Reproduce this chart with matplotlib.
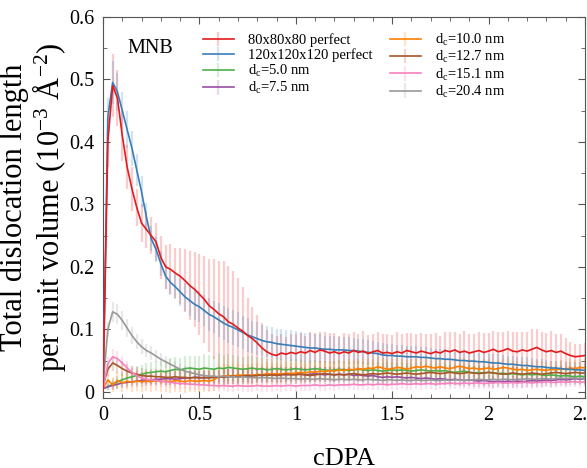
import numpy as np
import matplotlib
matplotlib.use("Agg")
import matplotlib.pyplot as plt

plt.rcParams["font.family"] = ["Liberation Serif", "DejaVu Serif"]
plt.rcParams["mathtext.fontset"] = "custom"
plt.rcParams["mathtext.rm"] = "Liberation Serif"
plt.rcParams["mathtext.it"] = "Liberation Serif:italic"

# cDPA grid (step 0.025)
cdpa = np.linspace(0, 2.5, 101)

labels = ["80x80x80 perfect", "120x120x120 perfect",
          r"d$_\mathrm{c}$=5.0 nm", r"d$_\mathrm{c}$=7.5 nm",
          r"d$_\mathrm{c}$=10.0 nm", r"d$_\mathrm{c}$=12.7 nm",
          r"d$_\mathrm{c}$=15.1 nm", r"d$_\mathrm{c}$=20.4 nm"]
colors = ["#e41a1c", "#377eb8", "#4daf4a", "#984ea3",
          "#ff7f00", "#a65628", "#f781bf", "#999999"]

perf80 = [0.0, 0.40, 0.49, 0.47, 0.41, 0.36, 0.325, 0.295, 0.27, 0.26,
          0.25, 0.24, 0.215, 0.20, 0.196, 0.19, 0.185, 0.178, 0.17, 0.164,
          0.156, 0.148, 0.138, 0.132, 0.125, 0.12, 0.112, 0.108, 0.102, 0.097,
          0.09, 0.085, 0.078, 0.07, 0.064, 0.06, 0.058, 0.062, 0.06, 0.063,
          0.061, 0.064, 0.062, 0.066, 0.063, 0.067, 0.065, 0.062, 0.064, 0.061,
          0.064, 0.062, 0.066, 0.063, 0.065, 0.061, 0.064, 0.066, 0.062, 0.063,
          0.061, 0.064, 0.062, 0.066, 0.064, 0.062, 0.065, 0.063, 0.061, 0.064,
          0.062, 0.066, 0.064, 0.067, 0.063, 0.065, 0.062, 0.064, 0.066, 0.063,
          0.065, 0.068, 0.064, 0.066, 0.069, 0.065, 0.064, 0.067, 0.065, 0.068,
          0.071, 0.067, 0.064, 0.066, 0.063, 0.065, 0.061, 0.058, 0.056, 0.057, 0.058]
perf120 = [0.0, 0.44, 0.495, 0.48, 0.45, 0.42, 0.39, 0.355, 0.32, 0.28,
           0.245, 0.228, 0.205, 0.185, 0.175, 0.168, 0.16, 0.152, 0.146, 0.14,
           0.136, 0.13, 0.124, 0.12, 0.115, 0.11, 0.106, 0.103, 0.099, 0.095,
           0.091, 0.088, 0.085, 0.082, 0.08, 0.079, 0.077, 0.076, 0.075, 0.074,
           0.073, 0.072, 0.071, 0.07, 0.07, 0.069, 0.068, 0.068, 0.067, 0.067,
           0.067, 0.066, 0.066, 0.065, 0.064, 0.063, 0.062, 0.061, 0.059, 0.058,
           0.058, 0.057, 0.057, 0.056, 0.056, 0.056, 0.055, 0.055, 0.054, 0.053,
           0.053, 0.052, 0.052, 0.051, 0.05, 0.05, 0.049, 0.049, 0.048, 0.048,
           0.047, 0.046, 0.046, 0.045, 0.044, 0.044, 0.043, 0.042, 0.042, 0.041,
           0.04, 0.04, 0.039, 0.038, 0.038, 0.037, 0.036, 0.036, 0.035, 0.035, 0.034]
dc50 = [0.005, 0.008, 0.012, 0.016, 0.019, 0.022, 0.024, 0.026, 0.028, 0.03,
        0.031, 0.032, 0.033, 0.032, 0.034, 0.036, 0.035, 0.037, 0.038, 0.037,
        0.036, 0.038, 0.037, 0.036, 0.038, 0.037, 0.039, 0.038, 0.037, 0.036,
        0.037, 0.038, 0.036, 0.037, 0.035, 0.036, 0.037, 0.036, 0.035, 0.036,
        0.037, 0.036, 0.035, 0.036, 0.037, 0.036, 0.035, 0.034, 0.035, 0.036,
        0.035, 0.034, 0.035, 0.036, 0.035, 0.034, 0.035, 0.034, 0.033, 0.034,
        0.035, 0.034, 0.035, 0.034, 0.033, 0.034, 0.035, 0.034, 0.033, 0.034,
        0.033, 0.034, 0.032, 0.031, 0.032, 0.033, 0.031, 0.03, 0.031, 0.03,
        0.031, 0.03, 0.029, 0.03, 0.028, 0.029, 0.028, 0.027, 0.028, 0.027,
        0.028, 0.027, 0.026, 0.027, 0.026, 0.025, 0.026, 0.025, 0.024, 0.025, 0.024]
dc75 = [0.005, 0.008, 0.01, 0.012, 0.014, 0.015, 0.016, 0.017, 0.018, 0.019,
        0.019, 0.02, 0.02, 0.021, 0.021, 0.02, 0.021, 0.022, 0.022, 0.023,
        0.023, 0.022, 0.023, 0.024, 0.023, 0.024, 0.025, 0.024, 0.025, 0.026,
        0.025, 0.026, 0.027, 0.026, 0.027, 0.028, 0.027, 0.028, 0.027, 0.028,
        0.029, 0.028, 0.027, 0.028, 0.029, 0.028, 0.027, 0.028, 0.027, 0.028,
        0.027, 0.028, 0.026, 0.027, 0.026, 0.025, 0.026, 0.024, 0.023, 0.024,
        0.023, 0.024, 0.023, 0.022, 0.023, 0.022, 0.021, 0.022, 0.021, 0.02,
        0.021, 0.02, 0.019, 0.02, 0.019, 0.018, 0.019, 0.018, 0.017, 0.018,
        0.017, 0.016, 0.017, 0.016, 0.017, 0.016, 0.017, 0.016, 0.017, 0.018,
        0.017, 0.018, 0.019, 0.018, 0.019, 0.02, 0.019, 0.02, 0.021, 0.02, 0.021]
dc100 = [0.005, 0.019, 0.011, 0.018, 0.014, 0.017, 0.015, 0.017, 0.016, 0.017,
         0.016, 0.018, 0.016, 0.017, 0.016, 0.018, 0.017, 0.016, 0.018, 0.017,
         0.017, 0.018, 0.017, 0.019, 0.024, 0.025, 0.026, 0.025, 0.027, 0.026,
         0.027, 0.026, 0.028, 0.027, 0.029, 0.028, 0.029, 0.028, 0.03, 0.029,
         0.03, 0.031, 0.03, 0.032, 0.031, 0.033, 0.032, 0.034, 0.033, 0.035,
         0.034, 0.036, 0.035, 0.037, 0.036, 0.038, 0.037, 0.04, 0.038, 0.036,
         0.037, 0.039, 0.038, 0.036, 0.038, 0.04, 0.039, 0.041, 0.039, 0.038,
         0.04, 0.038, 0.037, 0.039, 0.041, 0.039, 0.037, 0.038, 0.036, 0.037,
         0.038, 0.036, 0.037, 0.039, 0.038, 0.036, 0.035, 0.036, 0.034, 0.035,
         0.036, 0.035, 0.034, 0.036, 0.035, 0.037, 0.036, 0.038, 0.037, 0.039, 0.038]
dc127 = [0.01, 0.036, 0.046, 0.042, 0.037, 0.033, 0.03, 0.028, 0.026, 0.025,
         0.025, 0.024, 0.024, 0.023, 0.023, 0.024, 0.023, 0.023, 0.022, 0.023,
         0.022, 0.023, 0.022, 0.023, 0.024, 0.023, 0.024, 0.025, 0.024, 0.025,
         0.026, 0.025, 0.026, 0.027, 0.026, 0.027, 0.026, 0.027, 0.028, 0.027,
         0.027, 0.028, 0.027, 0.026, 0.027, 0.028, 0.029, 0.028, 0.027, 0.028,
         0.027, 0.028, 0.029, 0.028, 0.027, 0.028, 0.029, 0.028, 0.029, 0.03,
         0.029, 0.028, 0.029, 0.03, 0.029, 0.028, 0.029, 0.03, 0.031, 0.03,
         0.029, 0.03, 0.031, 0.03, 0.029, 0.03, 0.031, 0.03, 0.029, 0.03,
         0.031, 0.03, 0.029, 0.028, 0.029, 0.03, 0.029, 0.028, 0.029, 0.03,
         0.029, 0.028, 0.029, 0.03, 0.031, 0.03, 0.029, 0.03, 0.031, 0.03, 0.03]
dc151 = [0.005, 0.045, 0.056, 0.053, 0.046, 0.038, 0.031, 0.026, 0.022, 0.02,
         0.019, 0.018, 0.017, 0.016, 0.015, 0.014, 0.013, 0.013, 0.012, 0.012,
         0.011, 0.011, 0.01, 0.01, 0.009, 0.01, 0.009, 0.009, 0.01, 0.009,
         0.009, 0.009, 0.01, 0.009, 0.009, 0.009, 0.01, 0.009, 0.01, 0.01,
         0.009, 0.01, 0.01, 0.01, 0.011, 0.01, 0.01, 0.011, 0.01, 0.011,
         0.011, 0.011, 0.012, 0.011, 0.011, 0.012, 0.011, 0.012, 0.012, 0.011,
         0.012, 0.012, 0.013, 0.012, 0.012, 0.013, 0.012, 0.013, 0.013, 0.012,
         0.013, 0.013, 0.014, 0.013, 0.013, 0.014, 0.013, 0.014, 0.014, 0.013,
         0.014, 0.014, 0.015, 0.014, 0.014, 0.015, 0.014, 0.015, 0.015, 0.014,
         0.015, 0.015, 0.016, 0.015, 0.015, 0.016, 0.015, 0.016, 0.016, 0.015, 0.016]
dc204 = [0.01, 0.10, 0.128, 0.124, 0.114, 0.102, 0.09, 0.08, 0.072, 0.066,
         0.062, 0.057, 0.052, 0.048, 0.044, 0.04, 0.036, 0.033, 0.031, 0.029,
         0.027, 0.026, 0.025, 0.025, 0.024, 0.025, 0.024, 0.024, 0.023, 0.024,
         0.023, 0.023, 0.022, 0.023, 0.022, 0.022, 0.021, 0.022, 0.021, 0.021,
         0.021, 0.02, 0.021, 0.02, 0.02, 0.021, 0.02, 0.02, 0.019, 0.02,
         0.02, 0.019, 0.02, 0.019, 0.019, 0.02, 0.019, 0.019, 0.018, 0.019,
         0.019, 0.018, 0.019, 0.018, 0.018, 0.019, 0.018, 0.018, 0.019, 0.018,
         0.018, 0.019, 0.018, 0.019, 0.019, 0.018, 0.019, 0.019, 0.02, 0.019,
         0.019, 0.02, 0.019, 0.02, 0.02, 0.019, 0.02, 0.02, 0.021, 0.02,
         0.02, 0.021, 0.021, 0.02, 0.021, 0.022, 0.021, 0.022, 0.022, 0.021, 0.022]

# standard deviations (error bars)
perf80_err = [0.0, 0.04, 0.05, 0.045, 0.04, 0.035, 0.035, 0.03, 0.03, 0.03,
              0.03, 0.03, 0.035, 0.035, 0.04, 0.04, 0.045, 0.05, 0.055, 0.06,
              0.065, 0.07, 0.075, 0.08, 0.085, 0.09, 0.09, 0.085, 0.08, 0.07,
              0.06, 0.05, 0.045, 0.04, 0.035, 0.033, 0.032, 0.03, 0.028, 0.03,
              0.032, 0.03, 0.028, 0.03, 0.031, 0.029, 0.03, 0.032, 0.03, 0.028,
              0.03, 0.031, 0.029, 0.03, 0.032, 0.03, 0.028, 0.03, 0.031, 0.029,
              0.03, 0.032, 0.03, 0.028, 0.03, 0.031, 0.029, 0.03, 0.032, 0.03,
              0.028, 0.03, 0.031, 0.029, 0.03, 0.032, 0.03, 0.028, 0.03, 0.031,
              0.029, 0.03, 0.032, 0.03, 0.028, 0.03, 0.031, 0.029, 0.03, 0.032,
              0.03, 0.028, 0.03, 0.031, 0.029, 0.027, 0.025, 0.022, 0.02, 0.02, 0.02]
perf120_err = [0.0, 0.03, 0.035, 0.03, 0.03, 0.03, 0.028, 0.025, 0.025, 0.022,
               0.02, 0.02, 0.02, 0.02, 0.02, 0.02, 0.022, 0.022, 0.024, 0.025,
               0.025, 0.025, 0.026, 0.026, 0.027, 0.027, 0.028, 0.028, 0.028, 0.027,
               0.027, 0.026, 0.026, 0.025, 0.025, 0.025, 0.024, 0.025, 0.024, 0.025,
               0.024, 0.024, 0.023, 0.024, 0.023, 0.023, 0.022, 0.022, 0.022, 0.021,
               0.021, 0.021, 0.02, 0.02, 0.02, 0.02, 0.019, 0.019, 0.019, 0.018,
               0.018, 0.018, 0.018, 0.017, 0.017, 0.017, 0.017, 0.016, 0.016, 0.016,
               0.016, 0.016, 0.015, 0.015, 0.015, 0.015, 0.015, 0.015, 0.014, 0.014,
               0.014, 0.014, 0.014, 0.014, 0.013, 0.013, 0.013, 0.013, 0.013, 0.013,
               0.012, 0.012, 0.012, 0.012, 0.012, 0.012, 0.012, 0.012, 0.012, 0.012, 0.012]
dc50_err = [0.0, 0.005, 0.008, 0.01, 0.012, 0.013, 0.014, 0.015, 0.015, 0.016,
            0.016, 0.017, 0.017, 0.018, 0.018, 0.019, 0.019, 0.02, 0.02, 0.021,
            0.021, 0.022, 0.022, 0.022, 0.022, 0.022, 0.022, 0.021, 0.021, 0.02,
            0.02, 0.019, 0.019, 0.018, 0.018, 0.017, 0.017, 0.016, 0.016, 0.016,
            0.015, 0.015, 0.015, 0.015, 0.014, 0.014, 0.014, 0.014, 0.014, 0.014,
            0.013, 0.013, 0.013, 0.013, 0.013, 0.013, 0.013, 0.013, 0.013, 0.013,
            0.012, 0.012, 0.012, 0.012, 0.012, 0.012, 0.012, 0.012, 0.012, 0.012,
            0.012, 0.012, 0.012, 0.012, 0.012, 0.012, 0.012, 0.012, 0.012, 0.012,
            0.011, 0.011, 0.011, 0.011, 0.011, 0.011, 0.011, 0.011, 0.011, 0.011,
            0.011, 0.011, 0.011, 0.011, 0.011, 0.011, 0.011, 0.011, 0.011, 0.011, 0.011]
dc75_err = [0.0, 0.006, 0.007, 0.008, 0.008, 0.009, 0.009, 0.01, 0.01, 0.01,
            0.01, 0.01, 0.01, 0.011, 0.011, 0.011, 0.011, 0.011, 0.011, 0.011,
            0.011, 0.011, 0.012, 0.012, 0.012, 0.012, 0.012, 0.012, 0.012, 0.012,
            0.012, 0.012, 0.012, 0.012, 0.012, 0.012, 0.012, 0.012, 0.012, 0.012,
            0.012, 0.012, 0.012, 0.012, 0.012, 0.012, 0.012, 0.012, 0.012, 0.012,
            0.011, 0.011, 0.011, 0.011, 0.011, 0.011, 0.011, 0.011, 0.011, 0.011,
            0.011, 0.011, 0.011, 0.011, 0.011, 0.011, 0.011, 0.011, 0.011, 0.011,
            0.01, 0.01, 0.01, 0.01, 0.01, 0.01, 0.01, 0.01, 0.01, 0.01,
            0.01, 0.01, 0.01, 0.01, 0.01, 0.01, 0.01, 0.01, 0.01, 0.01,
            0.01, 0.01, 0.01, 0.01, 0.01, 0.01, 0.01, 0.01, 0.01, 0.01, 0.01]
dc100_err = [0.0, 0.01, 0.012, 0.013, 0.014, 0.015, 0.015, 0.016, 0.016, 0.016,
             0.017, 0.017, 0.017, 0.017, 0.018, 0.018, 0.018, 0.018, 0.018, 0.018,
             0.018, 0.018, 0.018, 0.018, 0.019, 0.019, 0.019, 0.019, 0.019, 0.019,
             0.018, 0.018, 0.018, 0.018, 0.018, 0.018, 0.017, 0.017, 0.017, 0.017,
             0.017, 0.017, 0.016, 0.016, 0.016, 0.016, 0.016, 0.016, 0.016, 0.016,
             0.016, 0.016, 0.016, 0.016, 0.016, 0.016, 0.016, 0.016, 0.016, 0.016,
             0.015, 0.015, 0.015, 0.015, 0.015, 0.015, 0.015, 0.015, 0.015, 0.015,
             0.015, 0.015, 0.015, 0.015, 0.015, 0.015, 0.015, 0.015, 0.015, 0.015,
             0.014, 0.014, 0.014, 0.014, 0.014, 0.014, 0.014, 0.014, 0.014, 0.014,
             0.014, 0.014, 0.014, 0.014, 0.014, 0.014, 0.014, 0.014, 0.014, 0.014, 0.014]
dc127_err = [0.0, 0.01, 0.012, 0.012, 0.012, 0.012, 0.012, 0.012, 0.012, 0.012,
             0.012, 0.012, 0.012, 0.012, 0.012, 0.012, 0.012, 0.012, 0.012, 0.012,
             0.012, 0.012, 0.012, 0.012, 0.012, 0.012, 0.012, 0.012, 0.012, 0.012,
             0.012, 0.012, 0.012, 0.012, 0.012, 0.012, 0.012, 0.012, 0.012, 0.012,
             0.011, 0.011, 0.011, 0.011, 0.011, 0.011, 0.011, 0.011, 0.011, 0.011,
             0.011, 0.011, 0.011, 0.011, 0.011, 0.011, 0.011, 0.011, 0.011, 0.011,
             0.011, 0.011, 0.011, 0.011, 0.011, 0.011, 0.011, 0.011, 0.011, 0.011,
             0.011, 0.011, 0.011, 0.011, 0.011, 0.011, 0.011, 0.011, 0.011, 0.011,
             0.011, 0.011, 0.011, 0.011, 0.011, 0.011, 0.011, 0.011, 0.011, 0.011,
             0.011, 0.011, 0.011, 0.011, 0.011, 0.011, 0.011, 0.011, 0.011, 0.011, 0.011]
dc151_err = [0.0, 0.01, 0.012, 0.012, 0.011, 0.011, 0.01, 0.01, 0.01, 0.009,
             0.009, 0.009, 0.009, 0.009, 0.009, 0.009, 0.009, 0.009, 0.009, 0.009,
             0.009, 0.009, 0.009, 0.009, 0.009, 0.009, 0.009, 0.009, 0.009, 0.009,
             0.009, 0.009, 0.009, 0.009, 0.009, 0.009, 0.009, 0.009, 0.009, 0.009,
             0.009, 0.009, 0.009, 0.009, 0.009, 0.009, 0.009, 0.009, 0.009, 0.009,
             0.009, 0.009, 0.009, 0.009, 0.009, 0.009, 0.009, 0.009, 0.009, 0.009,
             0.009, 0.009, 0.009, 0.009, 0.009, 0.009, 0.009, 0.009, 0.009, 0.009,
             0.009, 0.009, 0.009, 0.009, 0.009, 0.009, 0.009, 0.009, 0.009, 0.009,
             0.009, 0.009, 0.009, 0.009, 0.009, 0.009, 0.009, 0.009, 0.009, 0.009,
             0.009, 0.009, 0.009, 0.009, 0.009, 0.009, 0.009, 0.009, 0.009, 0.009, 0.009]
dc204_err = [0.0, 0.012, 0.016, 0.016, 0.015, 0.014, 0.013, 0.012, 0.012, 0.011,
             0.011, 0.01, 0.01, 0.01, 0.01, 0.009, 0.009, 0.009, 0.009, 0.009,
             0.009, 0.009, 0.009, 0.009, 0.009, 0.009, 0.009, 0.009, 0.009, 0.009,
             0.008, 0.008, 0.008, 0.008, 0.008, 0.008, 0.008, 0.008, 0.008, 0.008,
             0.008, 0.008, 0.008, 0.008, 0.008, 0.008, 0.008, 0.008, 0.008, 0.008,
             0.008, 0.008, 0.008, 0.008, 0.008, 0.008, 0.008, 0.008, 0.008, 0.008,
             0.008, 0.008, 0.008, 0.008, 0.008, 0.008, 0.008, 0.008, 0.008, 0.008,
             0.008, 0.008, 0.008, 0.008, 0.008, 0.008, 0.008, 0.008, 0.008, 0.008,
             0.008, 0.008, 0.008, 0.008, 0.008, 0.008, 0.008, 0.008, 0.008, 0.008,
             0.008, 0.008, 0.008, 0.008, 0.008, 0.008, 0.008, 0.008, 0.008, 0.008, 0.008]

series = [perf80, perf120, dc50, dc75, dc100, dc127, dc151, dc204]
errors = [perf80_err, perf120_err, dc50_err, dc75_err,
          dc100_err, dc127_err, dc151_err, dc204_err]
# drawing order: small ones first, perfect crystals on top
line_z = [10, 9, 6, 6, 6, 6, 6, 7]


def plot_dislocation_density():
    fig = plt.figure(figsize=(5.87, 4.68), dpi=100)
    ax = fig.add_axes([0.1755, 0.1496, 0.821, 0.8141])

    for y, e, c, lab, z in zip(series, errors, colors, labels, line_z):
        cont = ax.errorbar(cdpa, y, yerr=e, color=c, lw=1.2,
                           ecolor=matplotlib.colors.to_rgba(c, 0.22),
                           elinewidth=1.6, capsize=0, label=lab)
        cont.lines[0].set_zorder(z)
        for col in cont.lines[2]:
            col.set_zorder(2)

    ax.set_xlim(0, 2.5)
    ax.set_ylim(-0.01, 0.6)
    ax.set_xticks(np.arange(0, 2.51, 0.5))
    ax.set_xticklabels(["0", "0.5", "1", "1.5", "2", "2.5"])
    ax.set_xticks(np.arange(0, 2.51, 0.1), minor=True)
    ax.set_yticks(np.arange(0, 0.61, 0.1))
    ax.set_yticklabels(["0", "0.1", "0.2", "0.3", "0.4", "0.5", "0.6"])
    ax.set_yticks(np.arange(0, 0.61, 0.05), minor=True)
    ax.tick_params(which="both", direction="in", top=True, right=True,
                   color="#555555", labelsize=14.5, pad=6)
    ax.tick_params(which="major", length=5)
    ax.tick_params(which="minor", length=3)
    for s in ax.spines.values():
        s.set_color("#555555")

    ax.set_xlabel("cDPA", fontsize=19, labelpad=16)
    ax.set_ylabel("Total dislocation length\nper unit volume (10$^{-3}$ Å$^{-2}$)",
                  fontsize=22, labelpad=1, linespacing=1.05)

    ax.text(0.05, 0.918, "MNB", transform=ax.transAxes, fontsize=14.5,
            va="center", ha="left")

    ax.legend(loc="upper left", bbox_to_anchor=(0.18, 0.995), ncol=2,
              frameon=False, fontsize=10.5, handlelength=2.1,
              handletextpad=1.0, columnspacing=1.2, labelspacing=0.08)

    fig.savefig("out.png", dpi=100)


if __name__ == "__main__":
    plot_dislocation_density()
